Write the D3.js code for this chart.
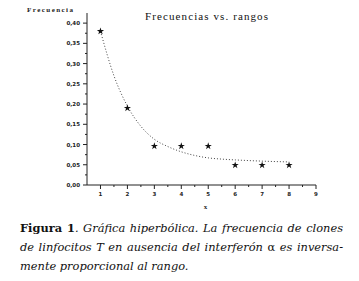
<!DOCTYPE html>
<html>
<head>
<meta charset="utf-8">
<script src="https://cdn.jsdelivr.net/npm/d3@7"></script>
<style>
  body { margin: 0; background: white; }
  svg { display: block; }
</style>
</head>
<body>
<svg id="chart" width="359" height="281"></svg>
<script>
const ranks = [1, 2, 3, 4, 5, 6, 7, 8]
const freqs = [0.38, 0.19, 0.096, 0.096, 0.096, 0.049, 0.049, 0.049]
// fitted curve
const fitX = [1, 1.5, 2, 2.5, 3, 3.5, 4, 4.5, 5, 5.5, 6, 7, 8]
const fitY = [0.38, 0.27, 0.195, 0.145, 0.113, 0.095, 0.082, 0.073, 0.067, 0.064, 0.062, 0.059, 0.057]
const yTicks = [0, 0.05, 0.10, 0.15, 0.20, 0.25, 0.30, 0.35, 0.40]
const xTicks = [1, 2, 3, 4, 5, 6, 7, 8, 9]
const captionLines = [
  [['Figura 1', 'bold'], ['. Gráfica hiperbólica. La frecuencia de clones', 'italic']],
  [['de linfocitos T en ausencia del interferón ', 'italic'], ['α', 'normal'], [' es inversa-', 'italic']],
  [['mente proporcional al rango.', 'italic']]
]

const svg = d3.select('#chart')
const pLeft = 87, pRight = 316, pTop = 13, pBottom = 185

let x = d3.scaleLinear().domain([0.5, 9]).range([pLeft, pRight])
let y = d3.scaleLinear().domain([0, 0.425]).range([pBottom, pTop])

const tickFont = '"DejaVu Sans", sans-serif'

// y axis
svg.append('line')
   .attr('x1', pLeft).attr('x2', pLeft)
   .attr('y1', pTop).attr('y2', pBottom)
   .style('stroke', '#222').style('stroke-width', 1)

let yMinor = d3.range(0.025, 0.425, 0.05)
svg.selectAll('.ymin').data(yMinor).enter().append('line')
   .attr('x1', pLeft - 2).attr('x2', pLeft)
   .attr('y1', d => y(d)).attr('y2', d => y(d))
   .style('stroke', '#222')
svg.selectAll('.ymaj').data(yTicks).enter().append('line')
   .attr('x1', pLeft - 4).attr('x2', pLeft)
   .attr('y1', d => y(d)).attr('y2', d => y(d))
   .style('stroke', '#222')
svg.selectAll('.ylab').data(yTicks).enter().append('text')
   .text(d => d.toFixed(2).replace('.', ','))
   .attr('x', pLeft - 7)
   .attr('y', d => y(d) + 2)
   .style('text-anchor', 'end')
   .style('font-family', tickFont)
   .style('font-size', '5.5px')
   .style('font-weight', 'bold')
   .style('fill', '#222')

// x axis
svg.append('line')
   .attr('x1', pLeft).attr('x2', pRight)
   .attr('y1', pBottom).attr('y2', pBottom)
   .style('stroke', '#222').style('stroke-width', 1)

let xMinor = d3.range(1.5, 9, 1)
svg.selectAll('.xmin').data(xMinor).enter().append('line')
   .attr('x1', d => x(d)).attr('x2', d => x(d))
   .attr('y1', pBottom).attr('y2', pBottom + 2)
   .style('stroke', '#222')
svg.selectAll('.xmaj').data(xTicks).enter().append('line')
   .attr('x1', d => x(d)).attr('x2', d => x(d))
   .attr('y1', pBottom).attr('y2', pBottom + 4)
   .style('stroke', '#222')
svg.selectAll('.xlab').data(xTicks).enter().append('text')
   .text(d => d)
   .attr('x', d => x(d))
   .attr('y', pBottom + 11)
   .style('text-anchor', 'middle')
   .style('font-family', tickFont)
   .style('font-size', '5.5px')
   .style('font-weight', 'bold')
   .style('fill', '#222')

// axis titles
svg.append('text')
   .text('Frecuencia')
   .attr('x', 27).attr('y', 12)
   .attr('textLength', 46)
   .style('font-family', '"Liberation Serif", serif')
   .style('font-size', '7px')
   .style('font-weight', 'bold')
   .style('fill', '#222')

svg.append('text')
   .text('x')
   .attr('x', x(4.9)).attr('y', 209)
   .style('text-anchor', 'middle')
   .style('font-family', '"Liberation Serif", serif')
   .style('font-size', '7px')
   .style('font-weight', 'bold')
   .style('fill', '#222')

svg.append('text')
   .text('Frecuencias vs. rangos')
   .attr('x', 145).attr('y', 20)
   .attr('textLength', 123)
   .style('font-family', '"Liberation Serif", serif')
   .style('font-size', '11px')
   .style('fill', '#111')

// fitted curve
let lineGenerator = d3.line()
                      .x((d, i) => x(d))
                      .y((d, i) => y(fitY[i]))
                      .curve(d3.curveMonotoneX)
svg.append('path')
   .datum(fitX)
   .attr('d', lineGenerator)
   .style('fill', 'none')
   .style('stroke', '#444')
   .style('stroke-width', 1)
   .style('stroke-dasharray', '1,2')

// points
svg.selectAll('.pt').data(ranks).enter().append('path')
   .attr('d', d3.symbol().type(d3.symbolStar).size(16))
   .attr('transform', (d, i) => `translate(${x(d)},${y(freqs[i])})`)
   .style('fill', '#111')

// caption, justified with word spacing
const capWidth = 323
let cap = svg.append('g')
captionLines.forEach((line, i) => {
  let t = cap.append('text')
             .attr('x', 20)
             .attr('y', 232 + i * 19)
             .style('font-family', '"DejaVu Serif", serif')
             .style('font-size', '11.4px')
             .style('fill', '#111')
  line.forEach(([s, f]) => {
    let ts = t.append('tspan').text(s)
    if (f == 'bold') ts.style('font-weight', 'bold')
    if (f == 'italic') ts.style('font-style', 'italic')
  })
  if (i < 2) {
    let len = t.node().getComputedTextLength()
    let spaces = line.map(p => p[0]).join('').split(' ').length - 1
    t.style('word-spacing', ((capWidth - len) / spaces) + 'px')
  }
})
</script>
</body>
</html>
